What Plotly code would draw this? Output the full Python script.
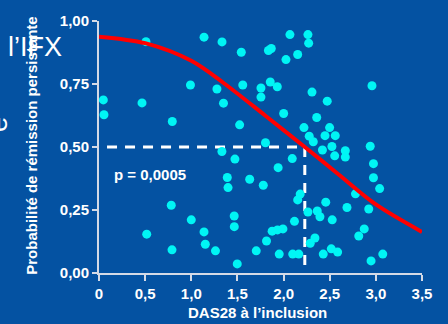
import plotly.graph_objects as go

# ---- data ----
das28 = [0.047, 0.054, 0.509, 0.466, 0.794, 0.991, 1.138, 1.278, 1.333, 1.349,
         1.332, 1.542, 2.069, 2.264, 2.272, 1.836, 1.867, 2.026, 2.153, 1.558,
         1.755, 1.856, 1.932, 1.755, 2.308, 2.473, 2.958, 2.001, 1.524, 2.359,
         2.221, 2.499, 2.278, 2.322, 2.449, 2.560, 1.804, 2.421, 2.524, 2.669,
         2.554, 2.669, 2.939, 2.974, 1.473, 2.094, 0.783, 0.517, 1.000, 1.138,
         0.791, 1.152, 1.262, 1.941, 1.390, 1.398, 1.633, 1.780, 1.465, 1.466,
         1.498, 1.704, 1.815, 1.876, 1.934, 1.993, 1.953, 2.099, 2.165, 2.118,
         2.180, 2.153, 2.264, 2.365, 2.394, 2.457, 2.527, 2.289, 2.340, 2.430,
         2.517, 2.586, 2.687, 2.779, 2.815, 2.874, 2.923, 2.974, 3.041, 2.948,
         3.075]
prob = [0.687, 0.628, 0.918, 0.675, 0.601, 0.746, 0.936, 0.730, 0.917, 0.674,
        0.482, 0.876, 0.946, 0.946, 0.912, 0.883, 0.891, 0.847, 0.867, 0.746,
        0.734, 0.758, 0.739, 0.698, 0.718, 0.682, 0.743, 0.633, 0.588, 0.617,
        0.577, 0.577, 0.543, 0.521, 0.545, 0.545, 0.517, 0.488, 0.502, 0.485,
        0.465, 0.460, 0.503, 0.434, 0.452, 0.454, 0.269, 0.154, 0.211, 0.163,
        0.092, 0.114, 0.088, 0.418, 0.379, 0.339, 0.372, 0.348, 0.226, 0.184,
        0.036, 0.088, 0.127, 0.166, 0.171, 0.175, 0.075, 0.075, 0.075, 0.205,
        0.313, 0.290, 0.242, 0.246, 0.223, 0.281, 0.211, 0.118, 0.139, 0.075,
        0.096, 0.083, 0.260, 0.314, 0.147, 0.175, 0.254, 0.378, 0.335, 0.048,
        0.075]

curve_x = [0.0, 0.5, 1.0, 1.35, 1.8, 2.23, 2.6, 3.0, 3.5]
curve_y = [0.938, 0.912, 0.842, 0.754, 0.625, 0.500, 0.390, 0.272, 0.163]

thresh_x = 2.23
thresh_y = 0.5
hline_x = [0.087, thresh_x]
vline_y = [thresh_y, 0.027]

x_ticks = [0, 0.5, 1.0, 1.5, 2.0, 2.5, 3.0, 3.5]
x_labels = ["0", "0,5", "1,0", "1,5", "2,0", "2,5", "3,0", "3,5"]
y_ticks = [0, 0.25, 0.5, 0.75, 1.0]
y_labels = ["0,00", "0,25", "0,50", "0,75", "1,00"]

p_text = "p = 0,0005"
x_title = "DAS28 à l’inclusion"
y_title = "Probabilité de rémission persistante"

BG = "#0452A2"
FONT = "Liberation Sans, Arial, sans-serif"
AXIS = "#d4dae6"

fig = go.Figure()
fig.add_trace(go.Scatter(x=hline_x, y=[thresh_y, thresh_y], mode="lines",
                         line=dict(color="white", width=3, dash="10px,8px"),
                         hoverinfo="skip"))
fig.add_trace(go.Scatter(x=[thresh_x, thresh_x], y=vline_y, mode="lines",
                         line=dict(color="white", width=3, dash="10px,8px"),
                         hoverinfo="skip"))
fig.add_trace(go.Scatter(x=das28, y=prob, mode="markers", cliponaxis=False,
                         marker=dict(color="#00F5F5", size=9, line=dict(width=0))))
fig.add_trace(go.Scatter(x=curve_x, y=curve_y, mode="lines", cliponaxis=False,
                         line=dict(color="#FF0000", width=4, shape="spline", smoothing=0.9)))

L, R, T, B = 99, 26, 15.5, 51
W, H = 448, 324
pw = W - L - R
ph = H - T - B

def px(xp):
    return (xp - L) / pw

def py(yp):
    return (H - B - yp) / ph

def ann(text, x, y, size, bold=True, angle=0):
    return dict(text=text, xref="paper", yref="paper", x=px(x), y=py(y),
                xanchor="center", yanchor="middle", textangle=angle,
                showarrow=False,
                font=dict(family=FONT, size=size, color="white",
                          weight="bold" if bold else "normal"))

fig.update_layout(
    width=W, height=H,
    margin=dict(l=L, r=R, t=T, b=B, pad=0),
    paper_bgcolor=BG, plot_bgcolor=BG,
    showlegend=False,
    font=dict(family=FONT, color="white"),
    xaxis=dict(range=[0, 3.5], tickvals=x_ticks, ticktext=x_labels,
               showgrid=False, zeroline=False, showline=True, linecolor=AXIS, linewidth=2,
               ticks="outside", ticklen=6, tickwidth=2, tickcolor=AXIS,
               tickfont=dict(family=FONT, size=15, color="white", weight="bold")),
    yaxis=dict(range=[0, 1.0], tickvals=y_ticks, ticktext=y_labels,
               showgrid=False, zeroline=False, showline=True, linecolor=AXIS, linewidth=2,
               ticks="outside", ticklen=5, tickwidth=2, tickcolor=AXIS,
               tickfont=dict(family=FONT, size=15, color="white", weight="bold")),
    annotations=[
        ann("l’IFX", 34.5, 42, 27, bold=False),
        ann("e", -3, 121, 28, bold=False, angle=-90),
        ann(y_title, 32, 143, 15, angle=-90),
        ann(x_title, 257.5, 313, 15),
        dict(text=p_text, x=0.553, y=0.39, xref="x", yref="y", showarrow=False,
             xanchor="center", yanchor="middle",
             font=dict(family=FONT, size=15, color="white", weight="bold")),
    ],
)

fig.write_html("out.html")
